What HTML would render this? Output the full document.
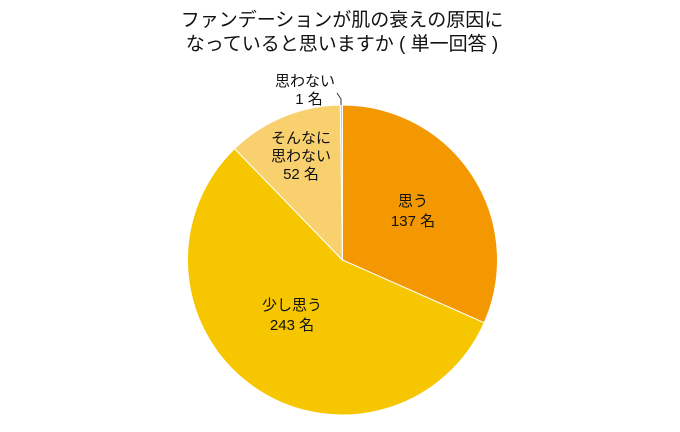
<!DOCTYPE html>
<html><head><meta charset="utf-8"><style>
body{margin:0;background:#fff;width:680px;height:427px;overflow:hidden}
svg text{font-family:"Liberation Sans","Noto Sans CJK JP",sans-serif;font-size:14px;fill:#111}
</style></head><body>
<svg width="680" height="427" viewBox="0 0 680 427">
<text x="342" y="26" text-anchor="middle" style="font-size:19px">ファンデーションが肌の衰えの原因に</text>
<text x="342" y="50" text-anchor="middle" style="font-size:19px">なっていると思いますか ( 単一回答 )</text>
<g stroke="#fff" stroke-width="1">
<path d="M342.5,260 L342.5,105 A155,155 0 0 1 484.2,322.8 Z" fill="#F39800"/>
<path d="M342.5,260 L484.2,322.8 A155,155 0 1 1 234.6,148.7 Z" fill="#F6C600"/>
<path d="M342.5,260 L234.6,148.7 A155,155 0 0 1 340.3,105 Z" fill="#F8D06E"/>
<path d="M342.5,260 L340.3,105 A155,155 0 0 1 342.5,105 Z" fill="#F0B8B8"/>
</g>
<path d="M337,93 L341,99 L341,105" stroke="#333" stroke-width="1" fill="none"/>
<text x="305" y="86" text-anchor="middle" style="font-size:15px">思わない</text>
<text x="309" y="104" text-anchor="middle" style="font-size:15px">1 名</text>
<text x="413" y="206" text-anchor="middle" style="font-size:15px">思う</text>
<text x="413" y="226" text-anchor="middle" style="font-size:15px">137 名</text>
<text x="292" y="310" text-anchor="middle" style="font-size:15px">少し思う</text>
<text x="292" y="330" text-anchor="middle" style="font-size:15px">243 名</text>
<text x="301" y="143" text-anchor="middle" style="font-size:15px">そんなに</text>
<text x="301" y="161" text-anchor="middle" style="font-size:15px">思わない</text>
<text x="301" y="179" text-anchor="middle" style="font-size:15px">52 名</text>
</svg>
</body></html>
